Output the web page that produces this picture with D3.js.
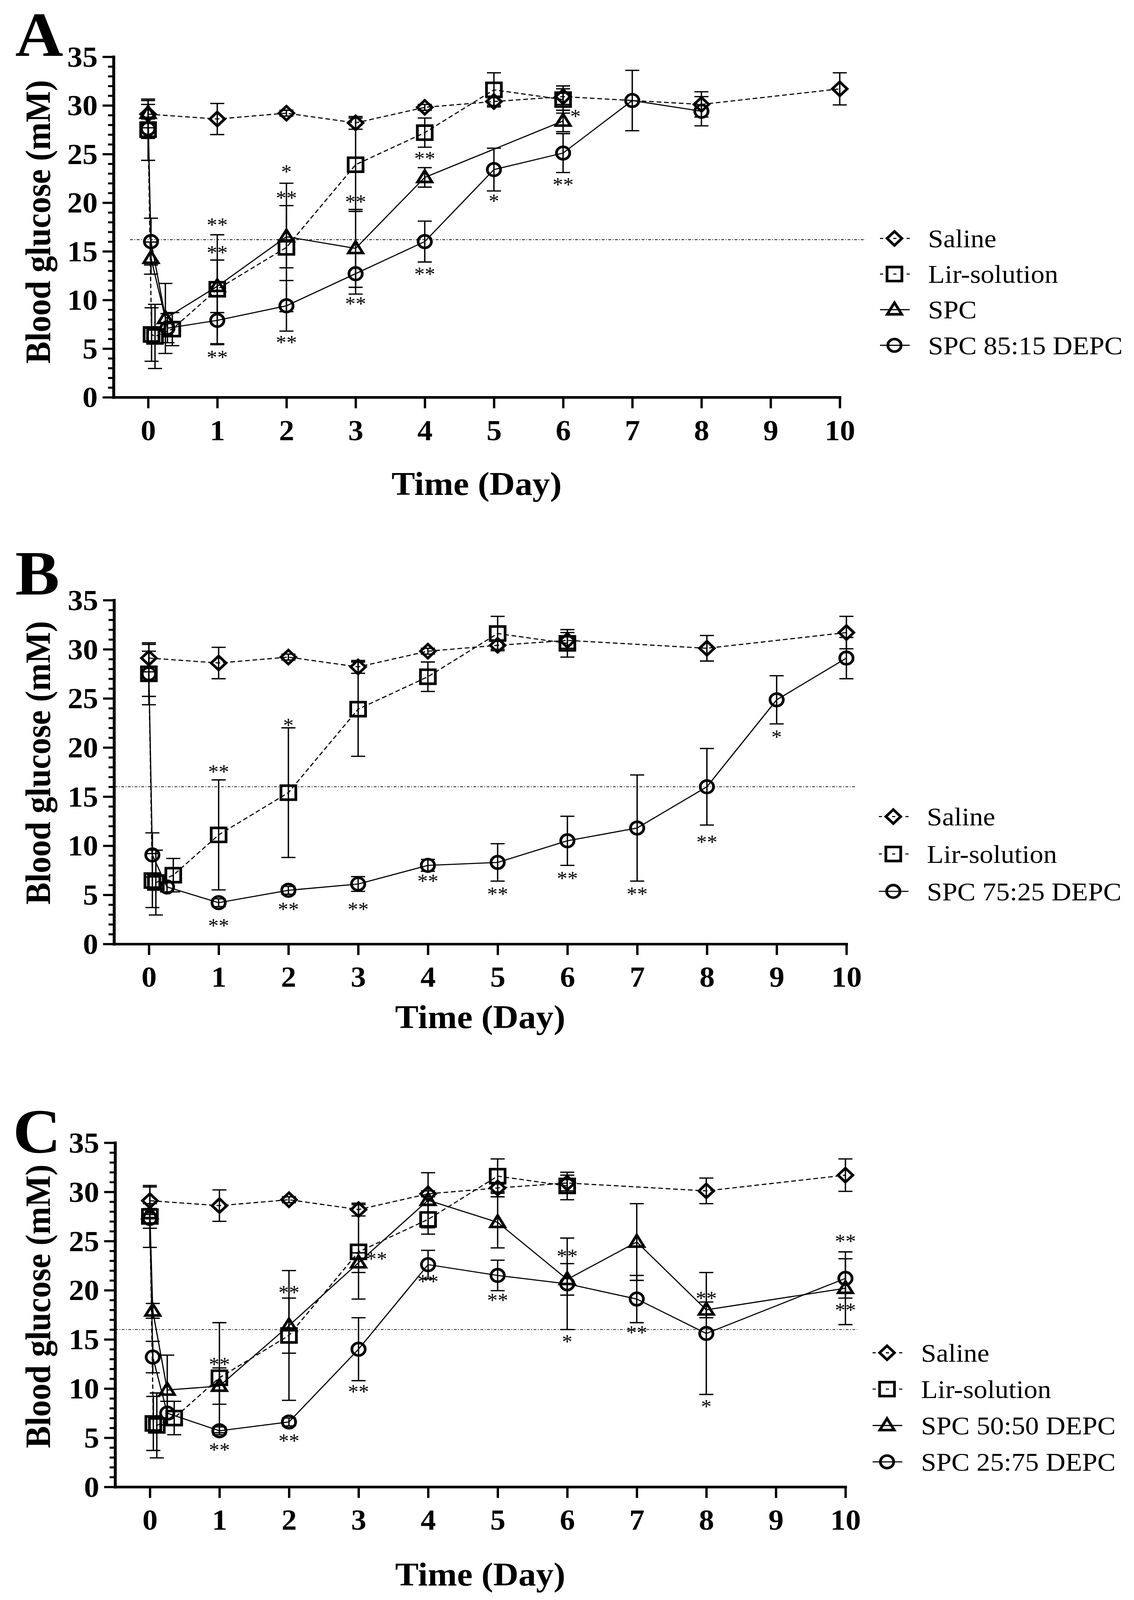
<!DOCTYPE html>
<html><head><meta charset="utf-8">
<script src="https://cdn.jsdelivr.net/npm/d3@7/dist/d3.min.js"></script>
<style>
html,body{margin:0;padding:0;background:#fff;overflow:hidden;width:100%;height:100%}
svg{display:block;width:100vw;height:100vh}
</style>
</head><body>
<svg id="c" viewBox="0 0 2902 4342" preserveAspectRatio="none"></svg>
<script>
// ---------------- DATA ----------------
const xTickValues = [0,1,2,3,4,5,6,7,8,9,10];
const yTickValues = [0,5,10,15,20,25,30,35];

const salineT = [0, 1, 2, 3, 4, 5, 6, 8, 10];
const salineV = [29.1, 28.6, 29.2, 28.2, 29.8, 30.4, 30.9, 30.1, 31.7];
const salineE = [1.4, 1.6, 0.3, 0.65, 0.3, 0.4, 0.8, 1.3, 1.65];

const lirT = [0, 0.05, 0.1, 0.35, 1, 2, 3, 4, 5, 6];
const lirV = [27.5, 6.45, 6.25, 7.0, 11.1, 15.4, 23.9, 27.2, 31.6, 30.6];
const lirE = [3.15, 2.75, 3.3, 1.7, 5.6, 6.6, 4.8, 1.5, 1.75, 1.4];

const spcT = [0, 0.042, 0.25, 1, 2, 3, 4, 6];
const spcV = [29.2, 14.3, 8.1, 11.4, 16.5, 15.3, 22.6, 28.4];
const spcE = [0.9, 1.65, 3.6, 2.7, 3.2, 4.0, 1.0, 1.1];

const d8515T = [0, 0.042, 0.28, 1, 2, 3, 4, 5, 6, 7, 8];
const d8515V = [27.6, 16.0, 7.1, 7.9, 9.4, 12.7, 16.0, 23.4, 25.1, 30.5, 29.4];
const d8515E = [1.0, 2.4, 1.5, 2.5, 2.6, 2.1, 2.1, 2.2, 2.0, 3.1, 1.5];

const d7525T = [0, 0.05, 0.26, 1, 2, 3, 4, 5, 6, 7, 8, 9, 10];
const d7525V = [27.5, 9.06, 5.8, 4.2, 5.46, 6.1, 8.0, 8.3, 10.5, 11.8, 16.0, 24.85, 29.1];
const d7525E = [2.3, 2.25, 0.5, 0.4, 0.4, 0.75, 0.6, 1.9, 2.5, 5.4, 3.9, 2.45, 2.1];

const d5050T = [0, 0.042, 0.25, 1, 2, 3, 4, 5, 6, 7, 8, 10];
const d5050V = [27.8, 17.9, 9.85, 10.25, 16.4, 22.8, 29.15, 26.9, 21.1, 24.9, 18.0, 20.2];
const d5050E = [1.0, 0.75, 3.55, 1.85, 2.8, 1.0, 2.8, 2.6, 1.6, 3.9, 0.8, 3.7];

const d2575T = [0, 0.042, 0.25, 1, 2, 3, 4, 5, 6, 7, 8, 10];
const d2575V = [27.3, 13.2, 7.5, 5.7, 6.6, 14.0, 22.6, 21.5, 20.65, 19.1, 15.6, 21.2];
const d2575E = [1.0, 1.6, 1.2, 0.4, 0.4, 3.2, 1.45, 1.55, 4.65, 2.4, 6.2, 2.0];

// significance marks: [day, value, text]
const starsA = [[1,18.05,'**'],[1,15.2,'**'],[1,4.45,'**'],[2,23.5,'*'],[2,20.8,'**'],[2,5.97,'**'],
  [3,20.4,'**'],[3,9.94,'**'],[4,24.86,'**'],[4,12.97,'**'],[5,20.5,'*'],[6.18,29.2,'*'],[6,22.2,'**']];
const starsB = [[1,17.85,'**'],[1,2.2,'**'],[2,22.6,'*'],[2,3.85,'**'],[3,3.85,'**'],[4,6.7,'**'],
  [5,5.4,'**'],[6,7.0,'**'],[7,5.4,'**'],[8,10.7,'**'],[9,21.4,'*']];
const starsC = [[1,12.8,'**'],[1,4.1,'**'],[2,20.1,'**'],[2,5.0,'**'],[3.26,23.5,'**'],[3,10.0,'**'],
  [4,21.2,'**'],[5,19.3,'**'],[6,23.8,'**'],[6,15.1,'*'],[7,16.0,'**'],[8,19.5,'**'],[8,8.5,'*'],
  [10,25.3,'**'],[10,18.3,'**']];

// threshold line: [value, fromDay, toDay]
const refA = [16.2, -0.26, 10.37];
const refB = [16.0, -0.49, 10.13];
const refC = [16.0, -0.5, 10.17];

// ---------------- SERIES ----------------
const mk = (name, t, v, e, shape, dashed) => ({name, shape, dashed, pts: t.map((d,i)=>({t:d, v:v[i], e:e[i]}))});
const saline = mk('Saline', salineT, salineV, salineE, 'diamond', true);
const lir = mk('Lir-solution', lirT, lirV, lirE, 'square', true);
const spc = mk('SPC', spcT, spcV, spcE, 'triangle', false);
const s8515 = mk('SPC 85:15 DEPC', d8515T, d8515V, d8515E, 'circle', false);
const s7525 = mk('SPC 75:25 DEPC', d7525T, d7525V, d7525E, 'circle', false);
const s5050 = mk('SPC 50:50 DEPC', d5050T, d5050V, d5050E, 'triangle', false);
const s2575 = mk('SPC 25:75 DEPC', d2575T, d2575V, d2575E, 'circle', false);

const FONT = "'Liberation Serif','Times New Roman',Times,serif";

const panels = [
  {label:'A', series:[saline, lir, spc, s8515], stars:starsA, ref:refA,
   L:{x0:290.5, x1:2149, yb:1078, yt:154, lx:39, ly:152, ytx:128, yty:602, xtDy:265,
      legX:2289, legY:647, legStep:96.7, legTX:2375}},
  {label:'B', series:[saline, lir, s7525], stars:starsB, ref:refB,
   L:{x0:291.75, x1:2166, yb:2561.6, yt:1628.6, lx:39, ly:1613, ytx:128, yty:2070, xtDy:228,
      legX:2286, legY:2216, legStep:101.5, legTX:2372}},
  {label:'C', series:[saline, lir, s5050, s2575], stars:starsC, ref:refC,
   L:{x0:294.5, x1:2163.5, yb:4035, yt:3101, lx:33, ly:3127, ytx:128, yty:3545, xtDy:268,
      legX:2270, legY:3671, legStep:98.7, legTX:2357}}
];

function shapePath(shape){
  if (shape==='circle'){ const r=17; return `M${-r},0a${r},${r} 0 1,0 ${2*r},0a${r},${r} 0 1,0 ${-2*r},0Z`; }
  if (shape==='square'){ const h=19; return `M${-h},${-h}H${h}V${h}H${-h}Z`; }
  if (shape==='diamond'){ const h=19; return `M0,${-h}L${h},0L0,${h}L${-h},0Z`; }
  if (shape==='triangle'){ return `M0,-19L18.5,12.5L-18.5,12.5Z`; }
}

const svg = d3.select('#c');
svg.append('rect').attr('width',2902).attr('height',4342).attr('fill','#fff');

panels.forEach(p => {
  const L = p.L;
  const g = svg.append('g');
  const x = d3.scaleLinear().domain([-0.5, 10]).range([L.x0, L.x1]);
  const y = d3.scaleLinear().domain([0, 35]).range([L.yb, L.yt]);

  // threshold dotted line
  g.append('line').attr('x1', x(p.ref[1])).attr('x2', x(p.ref[2]))
    .attr('y1', y(p.ref[0])).attr('y2', y(p.ref[0]))
    .attr('stroke','#000').attr('stroke-width',2).attr('stroke-dasharray','7,4,2,4');

  // minor y ticks
  const minor = d3.range(0, 36).filter(v => v % 5 !== 0);
  g.append('g').attr('transform',`translate(${L.x0},0)`)
    .call(d3.axisLeft(y).tickValues(minor).tickSize(14).tickFormat('').tickSizeOuter(0))
    .call(a => a.select('.domain').remove())
    .call(a => a.selectAll('line').attr('stroke-width',5.5));

  // major y axis
  const ya = g.append('g').attr('transform',`translate(${L.x0},0)`)
    .call(d3.axisLeft(y).tickValues(yTickValues).tickSize(28).tickPadding(12.5).tickSizeOuter(0));
  ya.select('.domain').attr('stroke-width',7.5).attr('stroke-linecap','square');
  ya.selectAll('.tick line').attr('stroke-width',6);
  ya.selectAll('.tick text').attr('font-family',FONT).attr('font-weight','bold')
    .attr('font-size',78).attr('dy','0.34em').attr('fill','#000');

  // x axis
  const xa = g.append('g').attr('transform',`translate(0,${L.yb})`)
    .call(d3.axisBottom(x).tickValues(xTickValues).tickSize(30).tickPadding(31).tickSizeOuter(0));
  xa.select('.domain').attr('stroke-width',7).attr('stroke-linecap','square');
  xa.selectAll('.tick line').attr('stroke-width',6);
  xa.selectAll('.tick text').attr('font-family',FONT).attr('font-weight','bold')
    .attr('font-size',78).attr('fill','#000');

  // axis titles
  g.append('text').attr('transform',`translate(${L.ytx},${L.yty}) rotate(-90)`)
    .attr('text-anchor','middle').attr('font-family',FONT).attr('font-weight','bold')
    .attr('font-size',90).text('Blood glucose (mM)');
  g.append('text').attr('x',(L.x0+L.x1)/2).attr('y',L.yb+L.xtDy)
    .attr('text-anchor','middle').attr('font-family',FONT).attr('font-weight','bold')
    .attr('font-size',90).text('Time (Day)');

  // panel label
  g.append('text').attr('x',L.lx).attr('y',L.ly).attr('font-family',FONT)
    .attr('font-weight','bold').attr('font-size',170).text(p.label);

  // series lines
  const line = d3.line().x(d => x(d.t)).y(d => y(d.v));
  p.series.forEach(s => {
    g.append('path').attr('d', line(s.pts)).attr('fill','none').attr('stroke','#000')
      .attr('stroke-width',3).attr('stroke-dasharray', s.dashed ? '12,7' : null);
  });
  // error bars
  p.series.forEach(s => {
    const eg = g.append('g').attr('stroke','#000').attr('stroke-width',3.5);
    s.pts.forEach(d => {
      eg.append('line').attr('x1',x(d.t)).attr('x2',x(d.t)).attr('y1',y(d.v-d.e)).attr('y2',y(d.v+d.e));
      [d.v-d.e, d.v+d.e].forEach(v => eg.append('line').attr('x1',x(d.t)-18).attr('x2',x(d.t)+18)
        .attr('y1',y(v)).attr('y2',y(v)));
    });
  });
  // markers
  p.series.forEach(s => {
    g.append('g').selectAll('path').data(s.pts).join('path')
      .attr('transform', d => `translate(${x(d.t)},${y(d.v)})`)
      .attr('d', shapePath(s.shape)).attr('fill','none').attr('stroke','#000')
      .attr('stroke-width',7).attr('stroke-linejoin','miter');
  });
  // stars
  g.append('g').selectAll('text').data(p.stars).join('text')
    .attr('x', d => x(d[0])).attr('y', d => y(d[1]) + 26)
    .attr('text-anchor','middle').attr('font-family',FONT).attr('font-size',54)
    .text(d => d[2]);

  // legend
  p.series.forEach((s, i) => {
    const cy = L.legY + i * L.legStep;
    const lg = g.append('g');
    lg.append('line').attr('x1',L.legX-37).attr('x2',L.legX+39).attr('y1',cy).attr('y2',cy)
      .attr('stroke','#000').attr('stroke-width',3).attr('stroke-dasharray', s.dashed ? '8,26' : null);
    lg.append('path').attr('transform',`translate(${L.legX},${cy})`).attr('d',shapePath(s.shape))
      .attr('fill','none').attr('stroke','#000').attr('stroke-width',7);
    lg.append('text').attr('x',L.legTX).attr('y',cy+24).attr('font-family',FONT)
      .attr('font-size',70).text(s.name);
  });
});
</script>
</body></html>
